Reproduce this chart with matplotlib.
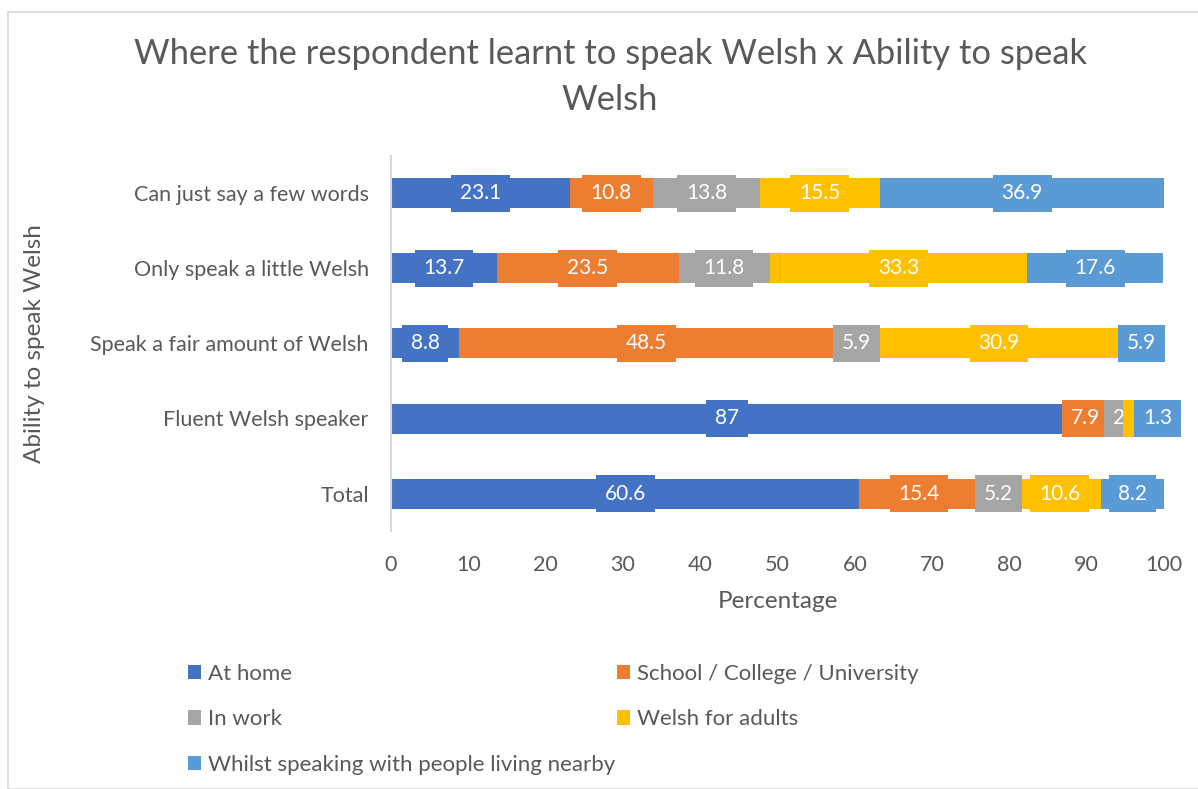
import matplotlib
matplotlib.use("Agg")
import matplotlib.pyplot as plt
from matplotlib.patches import Rectangle, Patch

plt.rcParams['font.family'] = ['Lato', 'DejaVu Sans']

categories = ["Total", "Fluent Welsh speaker", "Speak a fair amount of Welsh",
              "Only speak a little Welsh", "Can just say a few words"]
series_names = ["At home", "School / College / University", "In work",
                "Welsh for adults", "Whilst speaking with people living nearby"]
at_home = [60.6, 87.0, 8.8, 13.7, 23.1]
school = [15.4, 7.9, 48.5, 23.5, 10.8]
in_work = [5.2, 2.0, 5.9, 11.8, 13.8]
welsh_adults = [10.6, 1.6, 30.9, 33.3, 15.5]
nearby = [8.2, 1.3, 5.9, 17.6, 36.9]
xticks = [0, 10, 20, 30, 40, 50, 60, 70, 80, 90, 100]

colors = ["#4472C4", "#ED7D31", "#A5A5A5", "#FFC000", "#5B9BD5"]
text_gray = "#595959"
# small label nudges (points) for crowded segments: (series index, row index) -> dx
label_nudge = {(1, 1): -6, (2, 1): -9.5}

W, H = 1198, 789
fig = plt.figure(figsize=(W / 100, H / 100), dpi=100)

# outer chart border
fig.patches.append(Rectangle((8 / W, 0), 1.0, (H - 12) / H, transform=fig.transFigure,
                             fill=False, edgecolor="#D9D9D9", linewidth=1.2))

ax = fig.add_axes([391 / W, (H - 531) / H, (1164 - 391) / W, (531 - 156) / H])

all_series = [at_home, school, in_work, welsh_adults, nearby]
ypos = list(range(len(categories)))
left = [0.0] * len(categories)
for si, (name, vals, col) in enumerate(zip(series_names, all_series, colors)):
    ax.barh(ypos, vals, left=left, height=0.4, color=col, label=name, zorder=2)
    for ri, (y, l, v) in enumerate(zip(ypos, left, vals)):
        dx = label_nudge.get((si, ri), 0)
        ax.annotate(f"{v:g}", (l + v / 2, y), xytext=(dx, 0), textcoords="offset points",
                    ha="center", va="center", color="white", fontsize=15, zorder=3,
                    bbox=dict(boxstyle="square,pad=0.42", facecolor=col, edgecolor="none"))
    left = [a + b for a, b in zip(left, vals)]

ax.set_xlim(0, 100)
ax.set_ylim(-0.5, len(categories) - 0.5)
ax.set_xticks(xticks)
ax.set_xticklabels([str(t) for t in xticks])
ax.set_yticks(ypos)
ax.set_yticklabels(categories)
ax.tick_params(axis="both", length=0, colors=text_gray, labelsize=15.5)
ax.tick_params(axis="x", pad=17)
ax.tick_params(axis="y", pad=16)
for s in ["top", "right", "bottom"]:
    ax.spines[s].set_visible(False)
ax.spines["left"].set_color("#D9D9D9")
ax.spines["left"].set_linewidth(1.5)
ax.spines["left"].set_zorder(4)

ax.set_xlabel("Percentage", fontsize=17.5, color=text_gray, labelpad=12)
fig.text(35 / W, (H - 344) / H, "Ability to speak Welsh", rotation=90, ha="center",
         va="center", fontsize=17.5, color=text_gray)

fig.text(610 / W, (H - 77) / H, "Where the respondent learnt to speak Welsh x Ability to speak\nWelsh",
         ha="center", va="center", fontsize=24.8, color=text_gray, linespacing=1.55)

handles = [Patch(facecolor=c, edgecolor="none") for c in colors]
order = [0, 2, 4, 1, 3]
leg = fig.legend([handles[i] for i in order], [series_names[i] for i in order],
                 ncol=2, loc="upper left", bbox_to_anchor=(168 / W, (H - 644) / H),
                 frameon=False, fontsize=16, labelcolor=text_gray,
                 handlelength=0.6, handleheight=0.6, handletextpad=0.32,
                 labelspacing=1.14, columnspacing=0.05)

fig.savefig("out.png", dpi=100)
